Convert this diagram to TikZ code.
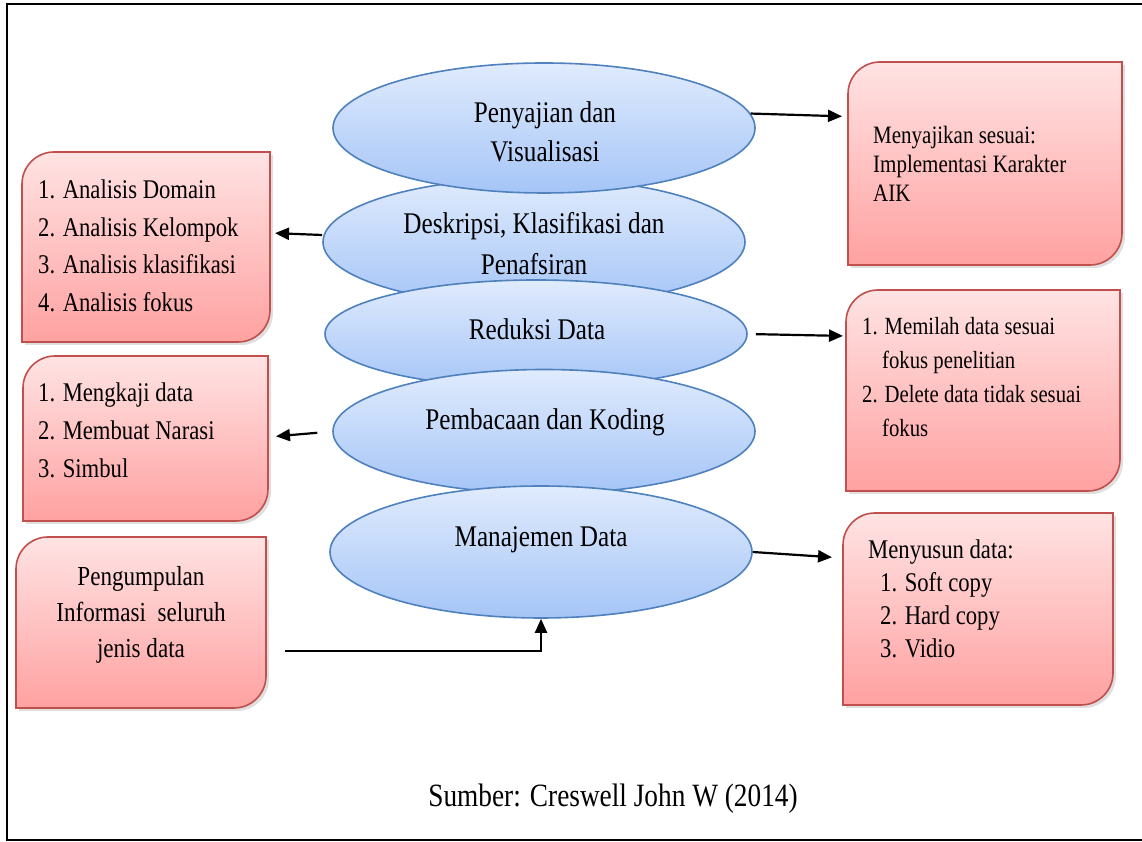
\documentclass[tikz,border=0pt]{standalone}
\usepackage{fontspec}
\setmainfont[FakeStretch=0.84]{Liberation Serif}
\usetikzlibrary{shapes.geometric,arrows.meta,shadows}

\definecolor{bubble edge}{HTML}{4F81BD}
\definecolor{bubble top}{HTML}{E0EBFD}
\definecolor{bubble bottom}{HTML}{A5C5F7}
\definecolor{leaf edge}{HTML}{C0504D}
\definecolor{leaf top}{HTML}{FFE3E3}
\definecolor{leaf bottom}{HTML}{FFA1A1}
\def\leafr{32}
\tikzset{
  bubble/.style={ellipse, draw=bubble edge, line width=1.6pt, top color=bubble top,
    bottom color=bubble bottom, minimum width=422, inner sep=0pt},
  spot/.style={inner sep=0pt, outer sep=0pt},
  leaf/.style={draw=leaf edge, line width=1.6pt, top color=leaf top, bottom color=leaf bottom,
    drop shadow={shadow xshift=3pt, shadow yshift=-3pt, opacity=0.25}},
  words/.style={inner sep=0pt, align=left}
  }
\tikzstyle{link} = [draw, line width=2.2pt, -{Triangle[length=14pt,width=12pt]}]

\begin{document}
\begin{tikzpicture}[x=1pt, y=1pt]
  \useasboundingbox (0,0) rectangle (1142,842);
  \draw[line width=2.4pt] (7,2) rectangle (1160,838);

  % stacked ellipses, lower ones drawn over the upper ones
  \foreach \pos/\h/\name in {{(534,600)/128/deskripsi}, {(536,508)/108/reduksi},
      {(544,410.5)/124/pembacaan}, {(541,290)/132/manajemen}, {(544,714)/130/penyajian}} {
    \node[bubble, minimum height=\h] (\name) at \pos {};
  }

  % boxes with two rounded corners
  \foreach \pos/\w/\h/\name in {{(985,678.5)/274/203/aik}, {(146,595)/248/190/analisis},
      {(983,451.5)/274/201/memilah}, {(145.5,403.5)/245/165/mengkaji},
      {(141,219.5)/250/171/pengumpulan}, {(978,233)/270/192/menyusun}} {
    \node[spot, minimum width=\w, minimum height=\h] (\name) at \pos {};
    \path[leaf] ([yshift=-\leafr]\name.north west) arc[start angle=180, end angle=90, radius=\leafr]
      -- (\name.north east) -- ([yshift=\leafr]\name.south east)
      arc[start angle=0, end angle=-90, radius=\leafr] -- (\name.south west) -- cycle;
  }

  \node[words, align=center, font=\fontsize{30}{39}\selectfont] (penyajiantext) at (545,710) {Penyajian dan\\Visualisasi};
  \node[words, align=center, font=\fontsize{30}{41}\selectfont] (deskripsitext) at (534,598) {Deskripsi, Klasifikasi dan\\Penafsiran};
  \node[words, font=\fontsize{30}{36}\selectfont, anchor=base] (reduksitext) at (537,502) {Reduksi Data};
  \node[words, font=\fontsize{30}{36}\selectfont, anchor=base] (pembacaantext) at (545,412) {Pembacaan dan Koding};
  \node[words, font=\fontsize{30}{36}\selectfont, anchor=base] (manajementext) at (541,295) {Manajemen Data};

  \node[words, font=\fontsize{25}{29}\selectfont, anchor=north west] (aiktext) at (873,716)
    {Menyajikan sesuai:\\Implementasi Karakter\\AIK};
  \node[words, font=\fontsize{27}{37.5}\selectfont, anchor=north west] (analisistext) at (38,662)
    {1. Analisis Domain\\2. Analisis Kelompok\\3. Analisis klasifikasi\\4. Analisis fokus};
  \node[words, font=\fontsize{24.7}{34}\selectfont, anchor=north west] (memilahtext) at (862,525)
    {1. Memilah data sesuai\\\hspace*{20pt}fokus penelitian\\2. Delete data tidak sesuai\\\hspace*{20pt}fokus};
  \node[words, font=\fontsize{27}{38}\selectfont, anchor=north west] (mengkajitext) at (38,459)
    {1. Mengkaji data\\2. Membuat Narasi\\3. Simbul};
  \node[words, align=center, font=\fontsize{27.5}{36}\selectfont, anchor=north] (pengumpulantext) at (141,276)
    {Pengumpulan\\Informasi~ seluruh\\jenis data};
  \node[words, font=\fontsize{27}{33}\selectfont, anchor=north west] (menyusuntext) at (868,302)
    {Menyusun data:\\\hspace*{12pt}1. Soft copy\\\hspace*{12pt}2. Hard copy\\\hspace*{12pt}3. Vidio};

  \node[words, font=\fontsize{32.5}{36}\selectfont, anchor=base] (sumber) at (613,35) {Sumber: Creswell John W (2014)};

  \draw[link, shorten >=6pt] (penyajian.4) -- ([yshift=47]aik.west);
  \draw[link, shorten >=5pt] ([yshift=7]deskripsi.west) -- ([yshift=14]analisis.east);
  \draw[link, shorten <=8pt, shorten >=3pt] (reduksi.east) -- ([yshift=54.5]memilah.west);
  \draw[link, shorten <=15pt, shorten >=8pt] (pembacaan.west) -- ([yshift=1.5]mengkaji.east);
  \draw[link, shorten >=11pt] (manajemen.east) -- ([yshift=51]menyusun.west);
  \draw[link, shorten <=19pt] ([yshift=-28.5]pengumpulan.east) -| (manajemen.south);
\end{tikzpicture}
\end{document}
